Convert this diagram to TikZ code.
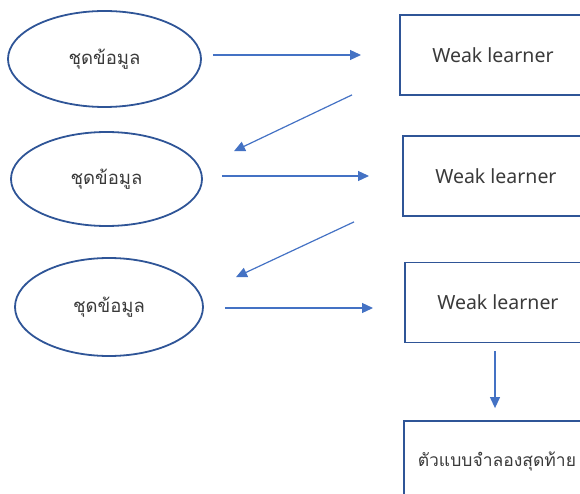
\documentclass[tikz,border=0pt]{standalone}
\usepackage{fontspec}
\setmainfont{Noto Sans}
\newfontfamily\thaifont[Script=Thai]{Loma}
\usetikzlibrary{shapes.geometric,arrows.meta}
\definecolor{edgeblue}{HTML}{2F5597}
\definecolor{arrowblue}{HTML}{4472C4}
\definecolor{txt}{HTML}{3A3A3A}
\tikzset{
  dataset/.style={ellipse,draw=edgeblue,line width=1.8pt,inner sep=0pt,
    font=\thaifont\fontsize{18.5}{22}\selectfont,text=txt},
  learner/.style={rectangle,draw=edgeblue,line width=1.8pt,inner sep=0pt,
    anchor=west,minimum width=186pt,minimum height=80pt,
    font=\fontsize{19.5}{22}\selectfont,text=txt},
  flow/.style={draw=arrowblue,line width=1.2pt,
    -{Triangle[length=11pt,width=10pt]}}
}
\begin{document}
\begin{tikzpicture}[x=1pt,y=-1pt]
\useasboundingbox (0,0) rectangle (580,494);
\clip (0,0) rectangle (580,494);

% input data sets
\node[dataset,minimum width=193pt,minimum height=96pt] (e1) at (104.5,59) {ชุดข้อมูล};
\node[dataset,minimum width=191pt,minimum height=94pt] (e2) at (106.5,179) {ชุดข้อมูล};
\node[dataset,minimum width=188pt,minimum height=98pt] (e3) at (109,307) {ชุดข้อมูล};

% weak learners and the final model
\node[learner] (w1) at (399,55) {Weak learner};
\node[learner] (w2) at (402,176) {Weak learner};
\node[learner] (w3) at (404,302.5) {Weak learner};
\node[learner,font=\thaifont\fontsize{17.5}{22}\selectfont] (w4) at (403,461) {ตัวแบบจำลองสุดท้าย};

% free ends of the feedback arrows
\coordinate (f1s) at ([shift={(-47,-1)}]w1.south west);
\coordinate (f1e) at ([shift={(127.5,20)}]e2.north);
\coordinate (f2s) at ([shift={(-48,5)}]w2.south west);
\coordinate (f2e) at ([shift={(127,20)}]e3.north);

\draw[flow,shorten <=11pt,shorten >=38pt] (e1.east |- w1.west) -- (w1.west);
\draw[flow] (f1s) -- (f1e);
\draw[flow,shorten <=19pt,shorten >=33pt] (e2.east |- w2.west) -- (w2.west);
\draw[flow] (f2s) -- (f2e);
\draw[flow,shorten <=21pt,shorten >=31pt] (e3.east |- 0,308) -- (w3.west |- 0,308);
\draw[flow,shorten <=8pt,shorten >=12pt] (w3.south -| 495,0) -- (w4.north -| 495,0);
\end{tikzpicture}
\end{document}
